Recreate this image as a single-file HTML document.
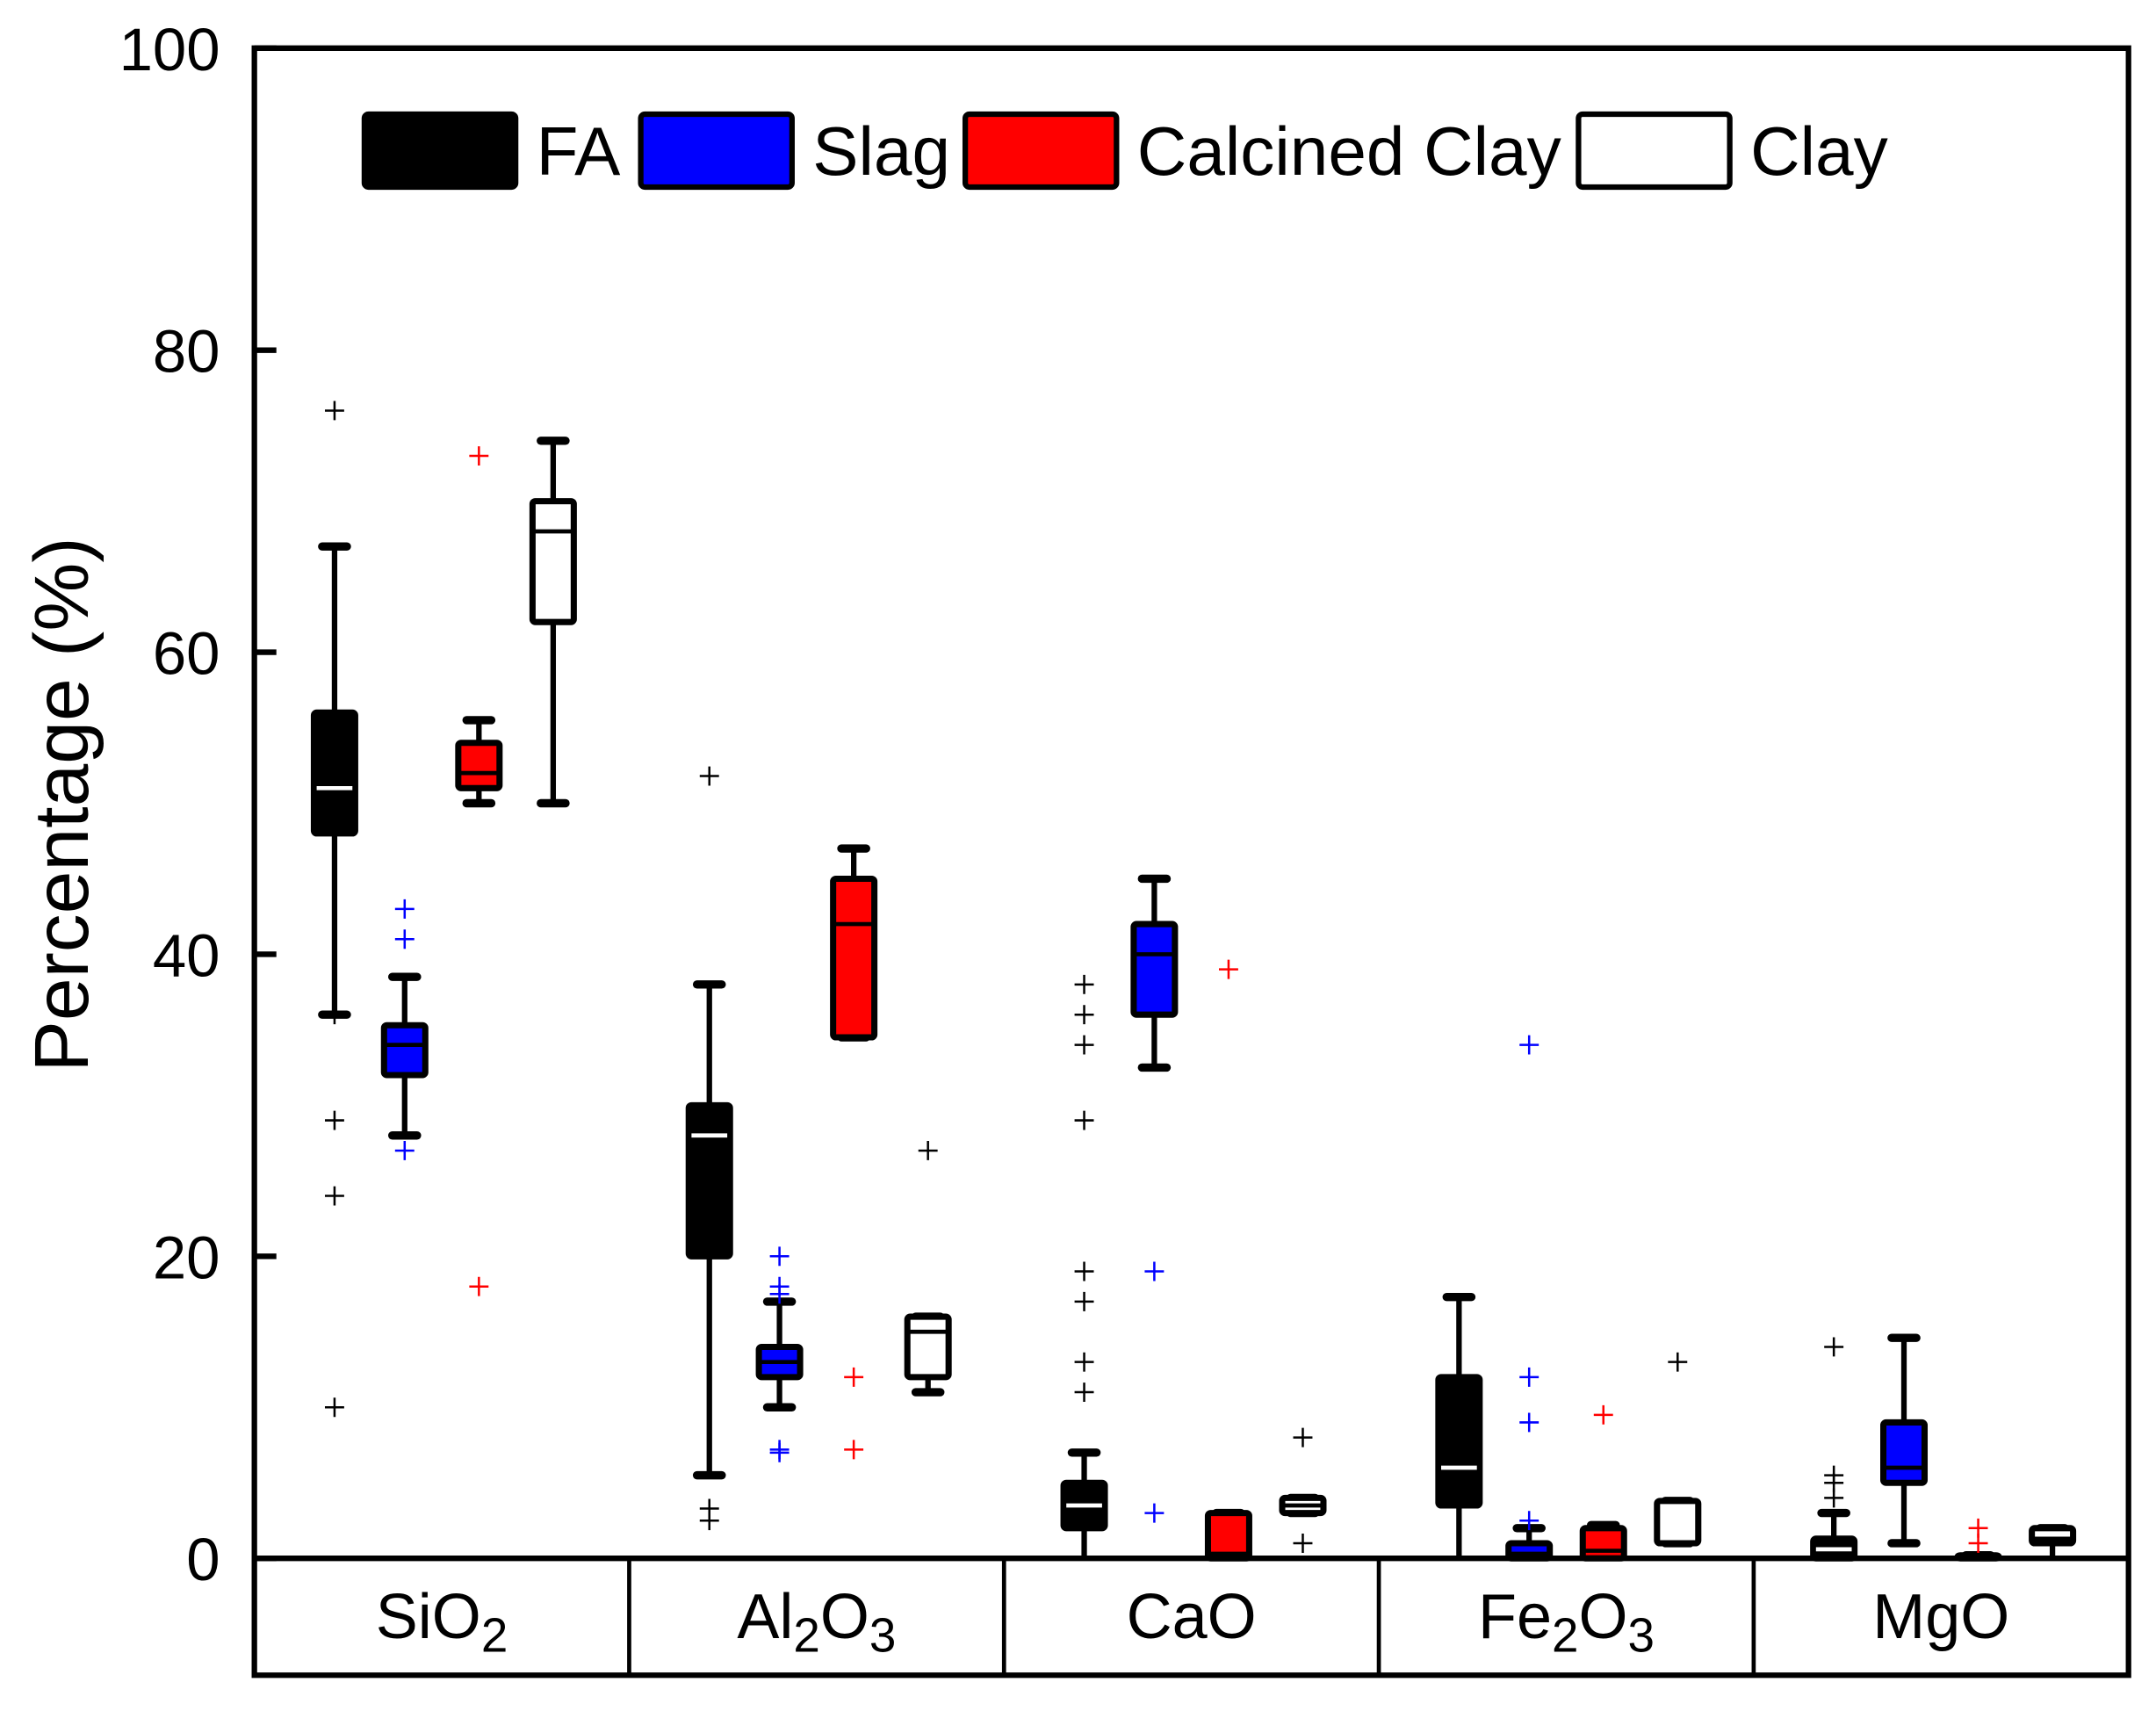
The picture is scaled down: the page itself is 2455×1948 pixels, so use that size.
<!DOCTYPE html>
<html><head><meta charset="utf-8">
<style>
html,body{margin:0;padding:0;background:#fff;}
svg{display:block;}
text{font-family:"Liberation Sans",Arial,sans-serif;fill:#000;}
</style></head>
<body>
<svg id="chart" width="2455" height="1948" viewBox="0 0 1568 1244" preserveAspectRatio="none" xmlns="http://www.w3.org/2000/svg">
<g id="marks"></g>
<g id="frame"></g>
</svg>
<script>
const categories = ["SiO2","Al2O3","CaO","Fe2O3","MgO"];
const seriesNames = ["FA","Slag","Calcined Clay","Clay"];
const seriesColors = ["#000","#0000ff","#ff0000","#fff"];
const yTicks = [0,20,40,60,80,100];
// per series: [category] -> [whiskerLow, q1, median, q3, whiskerHigh]
const faStats = [[36,48,51,56,67],[5.5,20,28,30,38],[0,2,3.5,5,7],[0,3.5,6,12,17.3],[0,0,0.6,1.3,3]];
const slagStats = [[28,32,34,35.3,38.5],[10,12,13,14,17],[32.5,36,40,42,45],[0,0,0.3,1,2],[1,5,6,9,14.6]];
const ccStats = [[50,51,52,54,55.5],[34.5,34.5,42,45,47],[0,0,0.3,3,3],[0,0,0.5,2,2.2],[0,0,0.1,0.2,0.2]];
const clayStats = [[50,62,68,70,74],[11,12,15,16,16],[3,3,3.5,4,4],[1,1,3.8,3.8,3.8],[0,1,1.3,2,2]];
const faOut = [[76,36,29,24,10],[51.8,3.3,2.5],[38,36,34,29,19,17,13,11],[],[14,5.5,5,4]];
const slagOut = [[43,41,27],[20,18,17.5,7,7.2],[19,3],[34,12,9,2.5],[]];
const ccOut = [[73,18],[12,7.2],[39],[9.5],[2,1]];
const clayOut = [[],[27],[8,1],[13],[]];

const NS="http://www.w3.org/2000/svg";
const L=185,R=1548,T=35,Y0=1133,B=1218;
const y = v => Y0 - v*(Y0-T)/100;
const groupW=(R-L)/categories.length;
const offsets=[-78,-27,27,81];
const xCenter=(ci,si)=>L+groupW*(ci+0.5)+offsets[si];
function mk(tag,attrs,parent){const e=document.createElementNS(NS,tag);for(const k in attrs)e.setAttribute(k,attrs[k]);parent.appendChild(e);return e;}
const marks=document.getElementById('marks'), frame=document.getElementById('frame');
const allStats=[faStats,slagStats,ccStats,clayStats], allOut=[faOut,slagOut,ccOut,clayOut];
const outColors=["#000","#0000ff","#ff0000","#000"];
const bw=30;
allStats.forEach((st,si)=>{
  st.forEach((s,ci)=>{
    const cx=xCenter(ci,si);
    const g=mk('g',{},marks);
    
    
    mk('line',{x1:cx,x2:cx,y1:y(s[0]),y2:y(s[4]),stroke:'#000','stroke-width':4},g);
    if(s[0]>0) mk('line',{x1:cx-9,x2:cx+9,y1:y(s[0]),y2:y(s[0]),stroke:'#000','stroke-width':6,'stroke-linecap':'round'},g);
    mk('line',{x1:cx-9,x2:cx+9,y1:y(s[4]),y2:y(s[4]),stroke:'#000','stroke-width':6,'stroke-linecap':'round'},g);
    const h=Math.max(y(s[1])-y(s[3]),1);
    mk('rect',{x:cx-bw/2,y:y(s[3]),width:bw,height:h,fill:seriesColors[si],stroke:'#000','stroke-width':4.5,rx:2},g);
    mk('line',{x1:cx-bw/2+2,x2:cx+bw/2-2,y1:y(s[2]),y2:y(s[2]),stroke:si===0?'#fff':'#000','stroke-width':3},g);
    allOut[si][ci].forEach(v=>{
      const o=mk('path',{d:`M${cx-7} ${y(v)}H${cx+7}M${cx} ${y(v)-7}V${y(v)+7}`,stroke:outColors[si],'stroke-width':1.6,fill:'none'},marks);
      
      
    });
  });
});
const fr=mk('path',{d:`M${L} ${T}H${R}V${B}H${L}Z M${L} ${Y0}H${R}`,fill:'none',stroke:'#000','stroke-width':4},frame);


for(let i=1;i<categories.length;i++){const x=L+groupW*i;mk('line',{x1:x,x2:x,y1:Y0,y2:B,stroke:'#000','stroke-width':3},frame);}
yTicks.forEach(t=>{
  mk('line',{x1:L,x2:L+16,y1:y(t),y2:y(t),stroke:'#000','stroke-width':4},frame);
  const tx=mk('text',{x:160,y:y(t)+16,'text-anchor':'end','font-size':44},frame);
  tx.textContent=t;
  
  
});
const yt=mk('text',{x:0,y:0,'text-anchor':'middle','font-size':56,transform:'translate(64,585) rotate(-90)'},frame);
yt.textContent='Percentage (%)';


categories.forEach((c,ci)=>{
  const cx=L+groupW*(ci+0.5);
  const t=mk('text',{x:cx,y:1191,'text-anchor':'middle','font-size':46},frame);
  
  
  c.split(/(\d)/).forEach(p=>{if(!p)return;const s=mk('tspan',{},t);s.textContent=p;if(/\d/.test(p)){s.setAttribute('font-size',35);s.setAttribute('dy',10);}else if(t.childNodes.length>1){s.setAttribute('dy',-10);}});
});
const legX=[265,466,702,1148];
seriesNames.forEach((n,si)=>{
  const g=mk('g',{},frame);
  
  
  mk('rect',{x:legX[si],y:83,width:110,height:53,fill:seriesColors[si],stroke:'#000','stroke-width':4,rx:3},g);
  const t=mk('text',{x:legX[si]+125,y:127,'font-size':50},g);
  t.textContent=n;
});
</script>
</body></html>
